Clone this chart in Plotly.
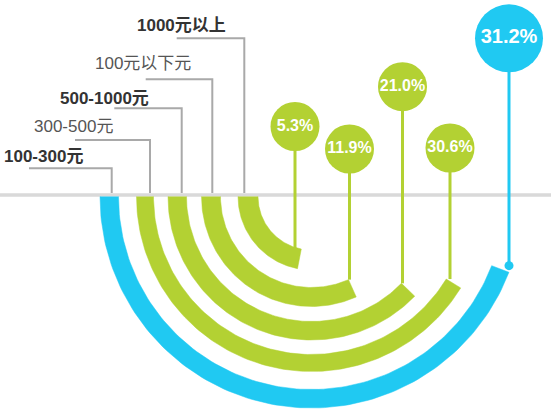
import numpy as np
import plotly.graph_objects as go

# ---------------- data ----------------
categories = ["100-300元", "300-500元", "500-1000元", "100元以下元", "1000元以上"]
shares = [31.2, 30.6, 21.0, 11.9, 5.3]
arc_sweep_deg = [159, 148.5, 136, 114, 79]
bold_label = [True, False, True, False, True]

# ---------------- layout geometry (pixels) ----------------
W, H = 551, 416
CX, CY = 311.5, 196.5
R_OUT = [211.5, 175, 143.5, 110, 73.5]
R_IN = [193, 158, 125, 91, 53.5]
BLUE, GREEN = "#20c9f2", "#b3d133"
COLORS = [BLUE, GREEN, GREEN, GREEN, GREEN]
BUBBLE_X = [509, 450, 402.5, 349.5, 295]
BUBBLE_Y = [38.3, 148, 86.7, 149, 126.5]
BUBBLE_R = [34, 24.5, 24.5, 24.5, 24.5]
BUBBLE_FS = [20, 16, 16, 16, 16]
LABEL_X = [1.7, 31.7, 58.3, 93.3, 135]
LABEL_Y = [156.7, 126.7, 98.3, 63.3, 25]
LEADER_Y = [168.3, 140, 108.3, 79.3, 38.3]
LEADER_X0 = [29, 75, 114.3, 145.7, 176.7]
LEADER_X1 = [111.7, 150, 181.7, 212.3, 244.3]
BASE_Y = 195
FONT = "Liberation Sans, Arial, Noto Sans CJK SC, sans-serif"


def pt(r, deg):
    t = np.radians(deg)
    return CX - r * np.cos(t), CY + r * np.sin(t)


fig = go.Figure()

# baseline
fig.add_trace(go.Scatter(x=[0, W], y=[BASE_Y, BASE_Y], mode="lines",
                         line=dict(color="#d9d9d9", width=3.5), hoverinfo="skip"))

# leader lines + labels
for i, cat in enumerate(categories):
    fig.add_trace(go.Scatter(
        x=[LEADER_X0[i], LEADER_X1[i], LEADER_X1[i]],
        y=[LEADER_Y[i], LEADER_Y[i], BASE_Y - 2],
        mode="lines", line=dict(color="#a9a9a9", width=2), hoverinfo="skip"))
    txt = f"<b>{cat}</b>" if bold_label[i] else cat
    fig.add_annotation(x=LABEL_X[i], y=LABEL_Y[i], text=txt, showarrow=False,
                       xanchor="left", yanchor="middle",
                       font=dict(family=FONT, size=17,
                                 color="#333333" if bold_label[i] else "#555555"))

# stems
for i in range(len(categories)):
    _, y_end = pt(R_IN[i], arc_sweep_deg[i])
    fig.add_trace(go.Scatter(
        x=[BUBBLE_X[i], BUBBLE_X[i]], y=[BUBBLE_Y[i], y_end],
        mode="lines", line=dict(color=COLORS[i], width=3), hoverinfo="skip"))

# end dot of the outer arc
_, yd = pt(R_IN[0], arc_sweep_deg[0])
fig.add_trace(go.Scatter(x=[BUBBLE_X[0]], y=[yd], mode="markers",
                         marker=dict(color=BLUE, size=9), hoverinfo="skip"))

# arcs
for i in range(len(categories)):
    a = np.linspace(0, arc_sweep_deg[i], 120)
    xo, yo = pt(R_OUT[i], a)
    xi, yi = pt(R_IN[i], a[::-1])
    fig.add_trace(go.Scatter(
        x=np.concatenate([xo, xi]), y=np.concatenate([yo, yi]),
        mode="lines", fill="toself", fillcolor=COLORS[i],
        line=dict(color=COLORS[i], width=0.5), hoverinfo="skip"))

# bubbles
for i in range(len(categories)):
    fig.add_trace(go.Scatter(
        x=[BUBBLE_X[i]], y=[BUBBLE_Y[i]], mode="markers+text",
        marker=dict(color=COLORS[i], size=2 * BUBBLE_R[i], line=dict(width=0)),
        text=[f"<b>{shares[i]:.1f}%</b>"], textposition="middle center",
        textfont=dict(family=FONT, size=BUBBLE_FS[i], color="white"),
        hoverinfo="skip"))

fig.update_layout(
    width=W, height=H, autosize=False,
    margin=dict(l=0, r=0, t=0, b=0),
    paper_bgcolor="white", plot_bgcolor="white",
    showlegend=False,
    xaxis=dict(range=[0, W], visible=False, fixedrange=True),
    yaxis=dict(range=[H, 0], visible=False, fixedrange=True),
)

fig.write_html("out.html", config={"displayModeBar": False},
               post_script="document.body.style.margin='0';document.body.style.overflow='hidden';")
